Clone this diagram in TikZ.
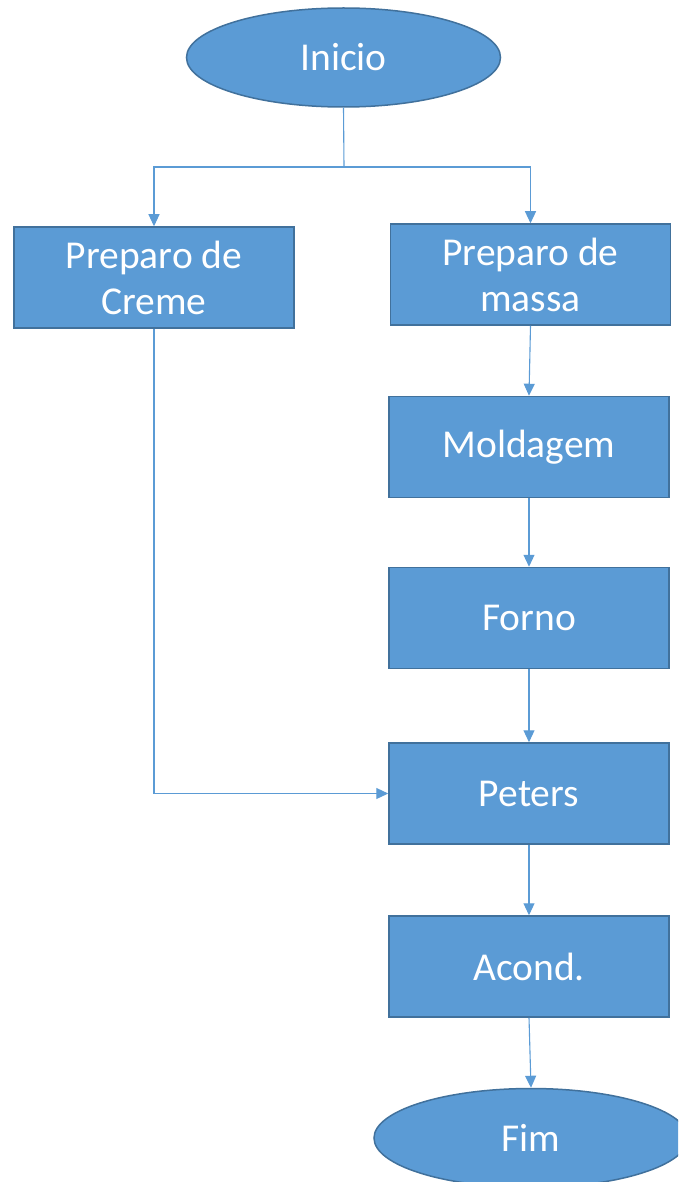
\documentclass[tikz,border=0pt]{standalone}
\usepackage{fontspec}
\setmainfont{Carlito}
\usetikzlibrary{shapes.geometric,arrows.meta}
\definecolor{fillblue}{HTML}{5B9BD5}
\definecolor{edgeblue}{HTML}{41719C}
\begin{document}
\begin{tikzpicture}[x=1pt,y=-1pt,
  every node/.style={text=white,font=\fontsize{39.5}{46}\selectfont,align=center,inner sep=0pt},
  stepbox/.style={rectangle,draw=edgeblue,fill=fillblue,line width=1.5pt,minimum width=280pt,minimum height=101pt},
  terminal/.style={ellipse,draw=edgeblue,fill=fillblue,line width=1.5pt,minimum width=314pt,minimum height=99pt},
  conn/.style={draw=fillblue,line width=1.1pt,-{Triangle[length=12pt,width=11pt]}},
  plain/.style={draw=fillblue,line width=1.1pt}]
\useasboundingbox (0,0) rectangle (678,1182);
\clip (0,0) rectangle (678,1182);
\node[terminal] (inicio) at (343.5,57.5) {Inicio};
\node[stepbox] (creme) at (154,277.5) {Preparo de\\Creme};
\node[stepbox] (massa) at (530.5,274.5) {Preparo de\\massa};
\node[stepbox] (molde) at (529,447) {Moldagem};
\node[stepbox] (forno) at (529,618) {Forno};
\node[stepbox] (peters) at (529,793.5) {Peters};
\node[stepbox] (acond) at (529,966.5) {Acond.};
\node[terminal] (fim) at (531,1138) {Fim};
\coordinate (split) at (344,167);
\draw[plain] (inicio.south) -- (split);
\draw[conn] (split) -| (creme.north);
\draw[conn] (split) -| (massa.north);
\draw[conn] (massa.south) -- (molde.north);
\draw[conn] (molde.south) -- (forno.north);
\draw[conn] (forno.south) -- (peters.north);
\draw[conn] (creme.south) |- (peters.west);
\draw[conn] (peters.south) -- (acond.north);
\draw[conn] (acond.south) -- (fim.north);
\end{tikzpicture}
\end{document}
